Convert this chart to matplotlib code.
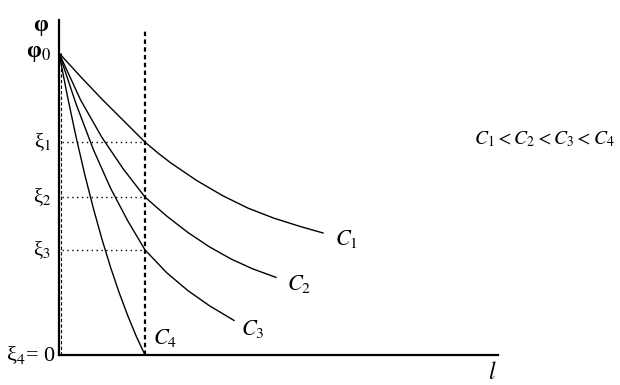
import matplotlib.pyplot as plt

plt.rcParams['font.family'] = ['Liberation Serif', 'DejaVu Serif']
plt.rcParams['mathtext.fontset'] = 'stix'

# curves (x in units of l1, y in units of phi0)
c1_x = [0, 0.25, 0.5, 0.75, 1.0, 1.15, 1.3, 1.6, 1.9, 2.2, 2.5, 2.8, 3.07]
c1_y = [1, 0.922, 0.847, 0.776, 0.705, 0.669, 0.636, 0.578, 0.528, 0.486, 0.453, 0.426, 0.404]
c2_x = [0, 0.25, 0.5, 0.75, 1.0, 1.25, 1.5, 1.75, 2.0, 2.25, 2.523]
c2_y = [1, 0.845, 0.72, 0.615, 0.523, 0.4605, 0.4055, 0.358, 0.318, 0.2855, 0.257]
c3_x = [0, 0.2, 0.4, 0.6, 0.8, 1.0, 1.25, 1.5, 1.75, 2.035]
c3_y = [1, 0.83, 0.68, 0.552, 0.444, 0.348, 0.273, 0.213, 0.163, 0.1145]
c4_x = [0, 0.1, 0.2, 0.3, 0.4, 0.5, 0.6, 0.7, 0.8, 0.9, 1.0]
c4_y = [1, 0.854, 0.72, 0.597, 0.485, 0.383, 0.29, 0.206, 0.13, 0.061, 0.0]

xi = [0.705, 0.523, 0.348]
xi_labels = ['ξ$_1$', 'ξ$_2$', 'ξ$_3$']
l1 = 1.0

fig = plt.figure(figsize=(6.2, 3.85), dpi=100)
ax = fig.add_axes([59/620, 30/385, 439/620, 335/385])
ax.set_xlim(0, 439/86)
ax.set_ylim(0, 335/302)

for s in ['top', 'right']:
    ax.spines[s].set_visible(False)
for s in ['left', 'bottom']:
    ax.spines[s].set_linewidth(1.6)
ax.set_xticks([])
ax.set_yticks([])

for xs, ys in [(c1_x, c1_y), (c2_x, c2_y), (c3_x, c3_y), (c4_x, c4_y)]:
    ax.plot(xs, ys, color='black', lw=1.0)

ax.axvline(l1, ymin=0, ymax=1.08/(335/302), color='black', lw=1.6, ls=(0, (2, 1.5)))
ax.plot([0.02, 0.02], [0, 1], color='black', lw=0.8, ls=(0, (3, 2)))
for v, lab in zip(xi, xi_labels):
    ax.plot([0.03, l1], [v, v], color='black', lw=1.0, ls=(0, (1, 2.5)))
    ax.text(-0.09, v, lab, ha='right', va='center', fontsize=15)

ax.text(-0.09, 1.0, 'φ$_0$', ha='right', va='center', fontsize=17, fontweight='bold')
ax.text(-0.13, 1.09, 'φ', ha='right', va='center', fontsize=17, fontweight='bold')
ax.text(-0.04, 0.0, 'ξ$_4$= 0', ha='right', va='center', fontsize=16)

ax.text(3.21, 0.385, '$C_1$', fontsize=16, va='center')
ax.text(2.65, 0.235, '$C_2$', fontsize=16, va='center')
ax.text(2.12, 0.085, '$C_3$', fontsize=16, va='center')
ax.text(1.09, 0.055, '$C_4$', fontsize=16, va='center')
ax.text(4.82, 0.715, '$C_1 < C_2 < C_3 < C_4$', fontsize=14, va='center')
ax.text(5.04, -0.06, '$l$', fontsize=17, va='center', ha='center')

plt.savefig('out.png')
